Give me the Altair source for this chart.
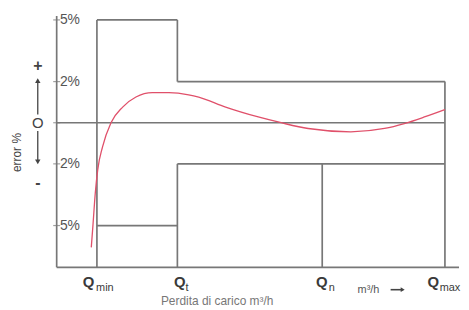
import altair as alt
import pandas as pd

# ---- data ----
Q_MIN, Q_T, Q_N, Q_MAX = 10.0, 30.0, 66.0, 96.5
Y_BOTTOM, Y_TOP = -7.03, 5.29
X_END = 100.0

# error curve (x in flow units, y in %)
curve_x = [8.6, 9.0, 9.6, 10.2, 11.4, 13.5, 16.4, 19.7, 23.8, 27.9, 32.8, 35.3,
           42.0, 50.1, 55.8, 62.5, 73.1, 81.5, 86.4, 91.4, 96.5]
curve_y = [-6.06, -5.03, -3.41, -2.29, -1.17, 0.0, 0.76, 1.25, 1.46, 1.46, 1.36, 1.25,
           0.76, 0.28, 0.0, -0.28, -0.44, -0.28, -0.04, 0.28, 0.64]

# envelope / frame segments
seg_x  = [Q_MIN, Q_T, Q_T, Q_MAX, Q_MIN, Q_MIN, Q_T, Q_T, Q_N, 0, 0, 0]
seg_x2 = [Q_T, Q_T, Q_MAX, Q_MAX, Q_MIN, Q_T, Q_T, Q_MAX, Q_N, Q_MAX, 0, X_END]
seg_y  = [5, 5, 2, 2, 5, -5, -2, -2, -2, 0, Y_BOTTOM, Y_BOTTOM]
seg_y2 = [5, 2, 2, Y_BOTTOM, Y_BOTTOM, -5, Y_BOTTOM, -2, Y_BOTTOM, 0, 5.19, Y_BOTTOM]

ytick_vals = [5, 2, 0, -2, -5]
ylab_vals = [5, 2, -2, -5]
ylab_text = ["5%", "2%", "2%", "5%"]

q_main_x = [7.9, 30.6, 65.9, 93.6]
q_sub_x = [9.8, 32.0, 67.6, 95.2]
q_sub = ["min", "t", "n", "max"]

GREY = "#777777"
RED = "#e0506a"
FONT = "Liberation Sans"
INK = "#444444"

segs = pd.DataFrame({"x": seg_x, "x2": seg_x2, "y": seg_y, "y2": seg_y2})
curve = pd.DataFrame({"x": curve_x, "y": curve_y})

xs = alt.Scale(domain=[0, X_END])
ys = alt.Scale(domain=[Y_BOTTOM, Y_TOP])
X = lambda f="x": alt.X(f"{f}:Q", scale=xs, axis=None)
Y = lambda f="y": alt.Y(f"{f}:Q", scale=ys, axis=None)


def label(x, y, t, **kw):
    base = dict(align="left", baseline="middle", font=FONT, color=INK)
    base.update(kw)
    return alt.Chart(pd.DataFrame({"x": x, "y": y, "t": t})).mark_text(**base).encode(
        x=X(), y=Y(), text="t:N")


def arrowheads(x, y, shapes, size=30):
    return alt.Chart(pd.DataFrame({"x": x, "y": y, "s": shapes})).mark_point(
        filled=True, color=INK, size=size, opacity=1).encode(
        x=X(), y=Y(), shape=alt.Shape("s:N", scale=None, legend=None))


rules = alt.Chart(segs).mark_rule(color=GREY, strokeWidth=1.7).encode(
    x=X(), x2="x2:Q", y=Y(), y2="y2:Q")

line = alt.Chart(curve).mark_line(color=RED, strokeWidth=1.3, interpolate="monotone").encode(
    x=X(), y=Y())

ticks = alt.Chart(pd.DataFrame({"x": [0] * len(ytick_vals), "y": ytick_vals})).mark_tick(
    color=GREY, orient="horizontal", size=7, thickness=1.2).encode(x=X(), y=Y())

ylabels = label([0.8] * 4, ylab_vals, ylab_text, fontSize=14, color="#555555")
qmain = label(q_main_x, [-7.75] * 4, ["Q"] * 4, align="center", fontSize=15,
              fontWeight="bold", color="#3a3a3a")
qsub = label(q_sub_x, [-8.05] * 4, q_sub, fontSize=11, color="#3a3a3a")
units = label([74.8], [-8.15], ["m³/h"], fontSize=11, color="#555555")
xtitle = label([25.9], [-8.68], ["Perdita di carico m³/h"], fontSize=12, color="#777777")
ytitle = label([-9.8], [-1.45], ["error %"], align="center", angle=270, fontSize=12)

# unit arrow
uarrow_line = alt.Chart(pd.DataFrame({"x": [83.0], "x2": [86.0], "y": [-8.12]})).mark_rule(
    color=INK, strokeWidth=1.6).encode(x=X(), x2="x2:Q", y=Y())
uarrow_head = arrowheads([86.0], [-8.12], ["triangle-right"], size=22)

# sign indicator: + ▲ — O — ▼ -
plus_minus = label([-4.7, -4.7], [2.75, -2.95], ["+", "-"], align="center",
                   fontSize=16, fontWeight="bold")
zero_o = label([-4.7], [0.0], ["O"], align="center", fontSize=15)

arrow_lines = alt.Chart(pd.DataFrame({"x": [-4.7, -4.7], "y": [0.4, -0.4], "y2": [2.0, -1.85]})).mark_rule(
    color=INK, strokeWidth=1.3).encode(x=X(), y=Y(), y2="y2:Q")
heads = arrowheads([-4.7, -4.7], [2.05, -1.9], ["triangle-up", "triangle-down"])

chart = alt.layer(rules, line, ticks, ylabels, qmain, qsub, units, uarrow_line, uarrow_head,
                  xtitle, ytitle, plus_minus, zero_o, arrow_lines, heads).properties(
    width=405, height=255,
    autosize=alt.AutoSizeParams(type="none"),
    padding={"left": 49, "top": 5, "right": 2, "bottom": 42},
    background="white",
).configure_view(stroke=None)

chart.save("out.html", embed_options={"renderer": "svg", "actions": False})
